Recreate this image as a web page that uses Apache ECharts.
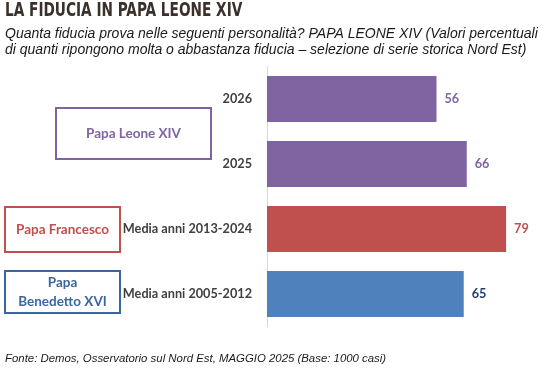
<!DOCTYPE html>
<html>
<head>
<meta charset="utf-8">
<script src="https://cdn.jsdelivr.net/npm/echarts@6/dist/echarts.min.js"></script>
<style>html,body{margin:0;padding:0;background:#fff}#c{width:556px;height:373px}</style>
</head>
<body>
<div id="c"></div>
<script>
const categories = ["2026", "2025", "Media anni 2013-2024", "Media anni 2005-2012"];
const values = [56, 66, 79, 65];
const barColors = ["#8064A2", "#8064A2", "#C0504D", "#4F81BD"];
const labelColors = ["#8064A2", "#8064A2", "#C0504D", "#1F3F6E"];
const groupNames = ["Papa Leone XIV", "Papa Francesco", "Papa\nBenedetto XVI"];
const groupColors = ["#8064A2", "#C0504D", "#3B679E"];

const chart = echarts.init(document.getElementById('c'), null, {renderer: 'canvas'});
const lab = '"Lato", "Open Sans", sans-serif';

function box(x, y, w, h, text, color) {
  return [
    {type: 'rect', shape: {x: x, y: y, width: w, height: h},
     style: {fill: '#fff', stroke: color, lineWidth: 2}},
    {type: 'text', x: x + w / 2, y: y + h / 2,
     style: {text: text, fill: color, font: 'bold 13.5px ' + lab, align: 'center', verticalAlign: 'middle', lineHeight: 19}}
  ];
}

chart.setOption({
  animation: false,
  grid: {left: 267, right: 16.6, top: 66.5, bottom: 46.5, containLabel: false},
  xAxis: {type: 'value', min: 0, max: 90, show: false},
  yAxis: {
    type: 'category', data: categories, inverse: true,
    axisLine: {show: true, lineStyle: {color: '#d9d9d9', width: 1}},
    axisTick: {show: false},
    axisLabel: {color: '#404040', fontWeight: 'bold', fontSize: 12.7, fontFamily: lab, margin: 15}
  },
  series: [{
    type: 'bar',
    data: values.map((v, i) => ({value: v, itemStyle: {color: barColors[i]},
      label: {color: labelColors[i]}})),
    barCategoryGap: '29%',
    label: {show: true, position: 'right', distance: 8, fontWeight: 'bold', fontSize: 12.7, fontFamily: lab}
  }],
  graphic: [
    {type: 'text', x: 5, y: 2, scaleX: 0.8,
     style: {text: 'LA FIDUCIA IN PAPA LEONE XIV', fill: '#3a302c', font: 'bold 19px "DejaVu Sans Condensed", "DejaVu Sans", sans-serif'}},
    {type: 'text', left: 5, top: 26,
     style: {text: 'Quanta fiducia prova nelle seguenti personalità? PAPA LEONE XIV (Valori percentuali\ndi quanti ripongono molta o abbastanza fiducia – selezione di serie storica Nord Est)',
       fill: '#1a1a1a', font: 'italic 14px "Liberation Sans", Arial, sans-serif', lineHeight: 16}},
    {type: 'text', left: 5, top: 353,
     style: {text: 'Fonte: Demos, Osservatorio sul Nord Est, MAGGIO 2025 (Base: 1000 casi)',
       fill: '#1a1a1a', font: 'italic 11.4px "Liberation Sans", Arial, sans-serif'}},
    ...box(56, 108, 155, 51, groupNames[0], groupColors[0]),
    ...box(5, 207, 115, 45, groupNames[1], groupColors[1]),
    ...box(5, 271, 115, 42, groupNames[2], groupColors[2])
  ]
});
</script>
</body>
</html>
